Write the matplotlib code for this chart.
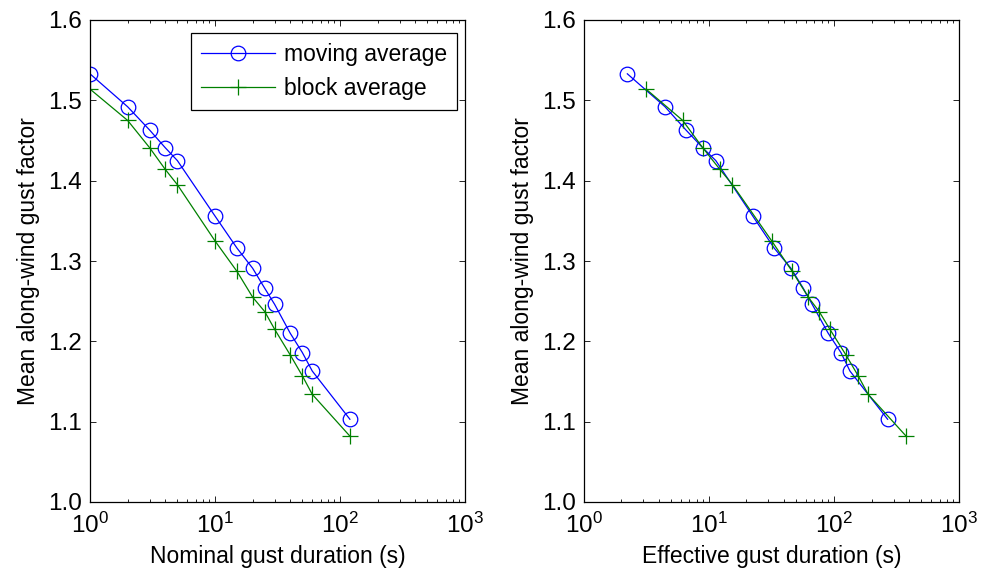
import matplotlib
matplotlib.use('agg')
import matplotlib.pyplot as plt
import numpy as np

# nominal gust durations (s)
nominal = [1, 2, 3, 4, 5, 10, 15, 20, 25, 30, 40, 50, 60, 120]
gf_moving = [1.533, 1.492, 1.463, 1.441, 1.425, 1.356, 1.316, 1.291, 1.266,
             1.246, 1.210, 1.186, 1.163, 1.103]
gf_block = [1.514, 1.475, 1.441, 1.414, 1.395, 1.325, 1.287, 1.255, 1.237,
            1.215, 1.183, 1.157, 1.134, 1.082]

# effective gust durations (s)
eff_moving = [2.24, 4.48, 6.59, 8.96, 11.4, 22.5, 33.4, 45.4, 57.0, 67.2,
              90.2, 114, 134.5, 269]
eff_block = [3.16, 6.20, 8.96, 12.3, 15.5, 31.9, 46.5, 62.5, 76.4, 93.0,
             125, 156.6, 188, 378]

yticks = [1.0, 1.1, 1.2, 1.3, 1.4, 1.5, 1.6]
xticks = [1, 10, 100, 1000]

plt.rcParams['font.family'] = ['Liberation Sans', 'DejaVu Sans']
plt.rcParams['mathtext.default'] = 'regular'
plt.rcParams['font.size'] = 16.5

fig = plt.figure(figsize=(9.84, 5.79), dpi=100)
ax1 = fig.add_axes([90 / 984, 77 / 579, 375 / 984, 482 / 579])
ax2 = fig.add_axes([583.5 / 984, 77 / 579, 375.5 / 984, 482 / 579])


def style(ax, xlabel):
    ax.set_xscale('log')
    ax.set_xlim(1, 1000)
    ax.set_ylim(1.0, 1.6)
    ax.set_yticks(yticks)
    ax.set_yticklabels(['%.1f' % v for v in yticks])
    ax.set_xticks(xticks)
    ax.set_xticklabels(['$10^{%d}$' % int(np.log10(v)) for v in xticks])
    ax.tick_params(which='both', direction='in', top=True, right=True,
                   width=0.6, labelsize=17.5)
    ax.tick_params(which='major', length=4)
    ax.tick_params(which='minor', length=2.5)
    ax.tick_params(axis='y', which='major', pad=5.5)
    ax.tick_params(axis='x', which='major', pad=7.5)
    for sp in ax.spines.values():
        sp.set_linewidth(0.9)
    ax.set_xlabel(xlabel, labelpad=5)
    ax.set_ylabel('Mean along-wind gust factor', labelpad=6)


ax1.plot(nominal, gf_moving, color='#0000ff', lw=0.9, marker='o', ms=10.5,
         mfc='none', mew=0.9, label='moving average')
ax1.plot(nominal, gf_block, color='#008000', lw=0.9, marker='+', ms=11,
         mew=0.9, label='block average')
style(ax1, 'Nominal gust duration (s)')
leg = ax1.legend(loc='upper right', bbox_to_anchor=(0.979, 0.973),
                 borderaxespad=0, fancybox=False, edgecolor='black',
                 framealpha=1, handlelength=3.2, borderpad=0.45,
                 labelspacing=0.45, handletextpad=0.4)
leg.get_frame().set_linewidth(0.9)

ax2.plot(eff_moving, gf_moving, color='#0000ff', lw=0.9, marker='o', ms=10.5,
         mfc='none', mew=0.9)
ax2.plot(eff_block, gf_block, color='#008000', lw=0.9, marker='+', ms=11,
         mew=0.9)
style(ax2, 'Effective gust duration (s)')

fig.savefig('out.png', dpi=100)
